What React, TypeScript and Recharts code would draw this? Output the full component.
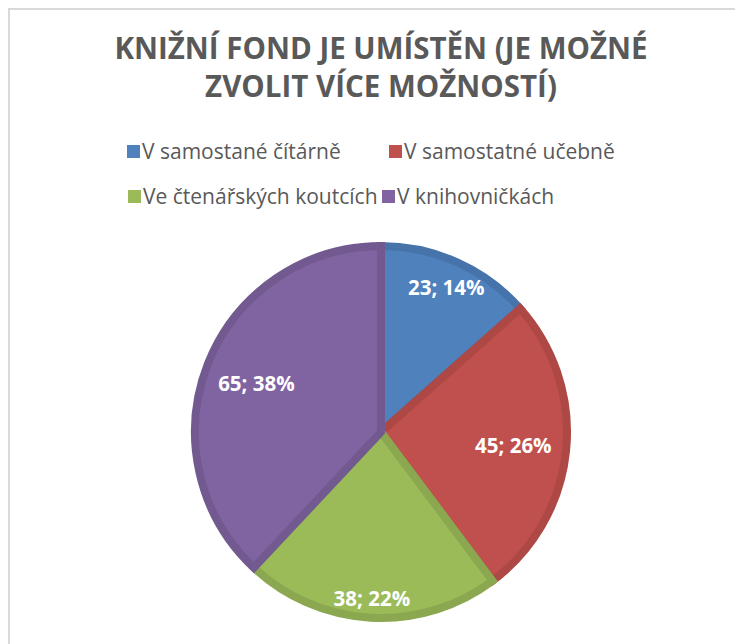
import React from 'react';
import { PieChart, Pie, Cell } from 'recharts';

const categories = ['V samostané čítárně', 'V samostatné učebně', 'Ve čtenářských koutcích', 'V knihovničkách'];
const counts = [23, 45, 38, 65];
const percents = [14, 26, 22, 38];
const titleLines = ['KNIŽNÍ FOND JE UMÍSTĚN (JE MOŽNÉ', 'ZVOLIT VÍCE MOŽNOSTÍ)'];

const FILLS = ['#4F81BD', '#C0504D', '#9BBB59', '#8064A2'];
const STROKES = ['#4674AA', '#AD4845', '#8BA750', '#725A91'];
const LABEL_RADII = [159, 133, 166, 134];
// legend item placement (top, left in px within the frame)
const LEGEND_LAYOUT = [
  { top: 126, left: 117 },
  { top: 126, left: 379 },
  { top: 171, left: 118 },
  { top: 171, left: 372 },
];

const data = categories.map((name, i) => ({ name, value: counts[i], pct: percents[i] }));

const FONT = '"Open Sans", "Noto Sans", sans-serif';
const RAD = Math.PI / 180;

const renderLabel = (props: any) => {
  const { cx, cy, midAngle, index } = props;
  const r = LABEL_RADII[index];
  const x = cx + r * Math.cos(-midAngle * RAD);
  const y = cy + r * Math.sin(-midAngle * RAD);
  const d = data[index];
  return (
    <text x={x} y={y} fill="#FFFFFF" textAnchor="middle" dominantBaseline="central"
      style={{ fontFamily: FONT, fontWeight: 700, fontSize: 20.5 }}>
      {`${d.value}; ${d.pct}%`}
    </text>
  );
};

export default function App() {
  return (
    <div style={{ position: 'relative', width: 733, height: 634, borderTop: '2px solid #D9D9D9', borderLeft: '2px solid #D9D9D9', background: '#fff' }}>
      <div style={{ position: 'absolute', left: 0, top: 19, width: 742, textAlign: 'center', fontFamily: FONT, fontWeight: 700, fontSize: 29.5, lineHeight: '38px', color: '#595959', whiteSpace: 'nowrap' }}>
        {titleLines.map((t, i) => <div key={i}>{t}</div>)}
      </div>
      {data.map((d, i) => (
        <div key={d.name} style={{ position: 'absolute', left: LEGEND_LAYOUT[i].left, top: LEGEND_LAYOUT[i].top, display: 'flex', alignItems: 'center', fontFamily: FONT, fontSize: 21, color: '#595959', whiteSpace: 'nowrap', height: 30 }}>
          <span style={{ display: 'inline-block', width: 13, height: 13, background: FILLS[i], marginRight: 2 }} />
          <span>{d.name}</span>
        </div>
      ))}
      <PieChart width={733} height={634} margin={{ top: 0, right: 0, bottom: 0, left: 0 }} style={{ position: 'absolute', left: 0, top: 0 }}>
        <Pie
          data={data}
          dataKey="value"
          nameKey="name"
          cx={371}
          cy={422}
          outerRadius={186}
          startAngle={90}
          endAngle={-270}
          isAnimationActive={false}
          label={renderLabel}
          labelLine={false}
          strokeWidth={8}
        >
          {data.map((d, i) => (
            <Cell key={d.name} fill={FILLS[i]} stroke={STROKES[i]} strokeWidth={8} />
          ))}
        </Pie>
      </PieChart>
    </div>
  );
}
